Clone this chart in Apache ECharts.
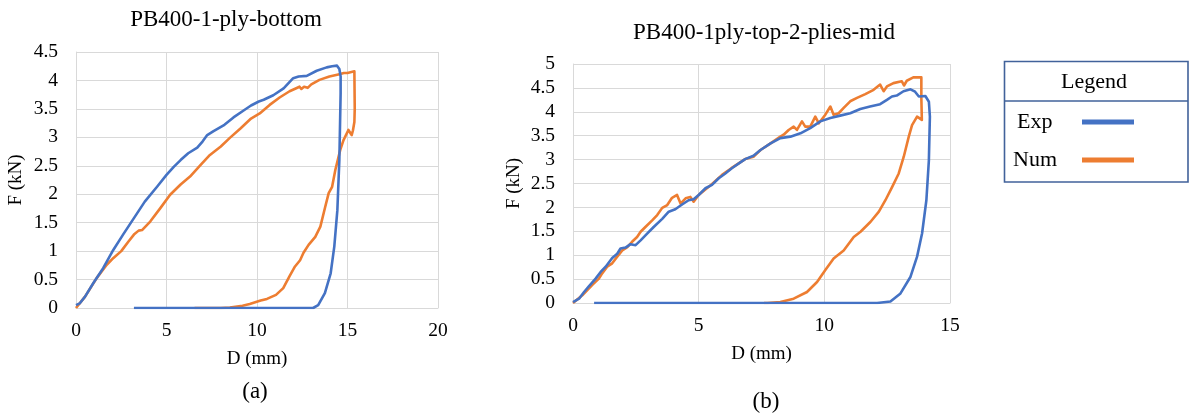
<!DOCTYPE html>
<html>
<head>
<meta charset="utf-8">
<script src="https://cdn.jsdelivr.net/npm/echarts@6/dist/echarts.min.js"></script>
<style>
html,body{margin:0;padding:0;background:#fff;}
#chart{width:1189px;height:419px;}
</style>
</head>
<body>
<div id="chart"></div>
<script>
// ---------- DATA ----------
const titleA = 'PB400-1-ply-bottom';
const titleB = 'PB400-1ply-top-2-plies-mid';
const seriesNames = ['Exp', 'Num'];
const xTicksA = [0, 5, 10, 15, 20];
const xTicksB = [0, 5, 10, 15];

// Chart (a): [D (mm), F (kN)]
const leftExp = [
  [0,0.05],[0.2,0.08],[0.5,0.2],[0.96,0.44],[1.5,0.7],[2.06,1.02],[2.6,1.29],[3.2,1.58],[3.8,1.87],
  [4.5,2.14],[5.0,2.34],[5.4,2.48],[5.78,2.6],[6.2,2.72],[6.7,2.82],[7.0,2.93],[7.25,3.04],[7.6,3.11],
  [8.2,3.22],[8.7,3.35],[9.3,3.48],[9.67,3.56],[10.1,3.63],[10.37,3.66],[10.9,3.74],[11.47,3.86],
  [12.0,4.04],[12.3,4.07],[12.75,4.08],[13.3,4.17],[13.85,4.23],[14.15,4.25],[14.42,4.26],[14.55,4.2],
  [14.62,4.07],[14.62,3.77],[14.55,2.6],[14.44,1.72],[14.27,1.08],[14.07,0.61],[13.75,0.26],
  [13.38,0.05],[13.1,0],[3.2,0]
];
const leftNum = [
  [0,0],[0.5,0.2],[1.15,0.53],[1.7,0.76],[2.07,0.88],[2.5,1.0],[2.9,1.17],[3.2,1.29],[3.46,1.36],
  [3.65,1.37],[4.1,1.52],[4.67,1.76],[5.2,1.99],[5.78,2.17],[6.3,2.31],[6.9,2.52],[7.4,2.69],[8.0,2.84],
  [8.5,2.99],[9.1,3.16],[9.67,3.33],[10.15,3.42],[10.7,3.57],[11.25,3.7],[11.8,3.81],[12.35,3.89],
  [12.45,3.85],[12.6,3.89],[12.8,3.87],[13.0,3.93],[13.45,4.01],[14.0,4.07],[14.55,4.11],[14.8,4.13],
  [14.9,4.11],[15.0,4.13],[15.1,4.12],[15.38,4.16],[15.4,3.5],[15.38,3.27],[15.3,3.12],[15.23,3.04],
  [15.05,3.13],[14.78,2.95],[14.6,2.78],[14.33,2.43],[14.15,2.13],[13.96,2.02],[13.77,1.78],[13.5,1.43],
  [13.22,1.25],[12.85,1.11],[12.57,0.97],[12.38,0.84],[12.1,0.73],[11.8,0.56],[11.45,0.35],[11.05,0.23],
  [10.55,0.16],[10.2,0.13],[9.6,0.07],[9.2,0.04],[8.5,0.01],[8.0,0],[6.55,0]
];

// Chart (b): [D (mm), F (kN)]
const rightExp = [
  [0,0.02],[0.24,0.09],[0.44,0.23],[0.63,0.35],[0.9,0.51],[1.1,0.65],[1.3,0.76],[1.56,0.94],[1.76,1.03],
  [1.89,1.14],[2.09,1.16],[2.29,1.23],[2.49,1.21],[2.69,1.31],[2.95,1.45],[3.21,1.59],[3.55,1.76],
  [3.81,1.91],[4.07,1.96],[4.34,2.06],[4.6,2.15],[4.8,2.17],[5.0,2.26],[5.27,2.4],[5.53,2.47],[5.8,2.61],
  [6.06,2.71],[6.32,2.82],[6.6,2.92],[6.85,3.01],[7.18,3.08],[7.46,3.2],[7.86,3.34],[8.25,3.45],
  [8.65,3.48],[9.05,3.55],[9.44,3.66],[9.84,3.8],[10.24,3.87],[10.63,3.92],[11.03,3.97],[11.43,4.06],
  [11.82,4.11],[12.22,4.16],[12.49,4.25],[12.69,4.32],[12.88,4.34],[13.15,4.43],[13.43,4.47],[13.61,4.42],
  [13.76,4.32],[14.02,4.33],[14.16,4.21],[14.2,3.9],[14.16,2.99],[14.06,2.15],[13.89,1.46],[13.69,0.97],
  [13.43,0.55],[13.03,0.2],[12.63,0.03],[12.1,0],[0.84,0]
];
const rightNum = [
  [0,0],[0.37,0.16],[0.77,0.38],[1.03,0.51],[1.16,0.62],[1.36,0.76],[1.56,0.83],[1.76,0.97],[1.96,1.1],
  [2.16,1.17],[2.35,1.28],[2.55,1.38],[2.69,1.49],[2.88,1.59],[3.15,1.73],[3.35,1.84],[3.55,1.99],
  [3.75,2.05],[3.94,2.2],[4.14,2.26],[4.28,2.08],[4.48,2.19],[4.67,2.22],[4.8,2.12],[5.0,2.26],[5.4,2.43],
  [5.93,2.68],[6.3,2.82],[6.85,3.01],[7.18,3.06],[7.46,3.2],[7.86,3.34],[8.25,3.48],[8.38,3.52],
  [8.58,3.62],[8.78,3.69],[8.91,3.62],[9.11,3.8],[9.24,3.69],[9.44,3.69],[9.64,3.9],[9.78,3.76],
  [10.04,3.94],[10.24,4.11],[10.37,3.94],[10.57,3.97],[10.77,4.08],[11.03,4.22],[11.3,4.29],[11.63,4.37],
  [11.96,4.46],[12.22,4.57],[12.36,4.43],[12.49,4.53],[12.75,4.6],[13.08,4.64],[13.17,4.55],[13.28,4.65],
  [13.54,4.72],[13.86,4.72],[13.86,4.29],[13.88,3.83],[13.69,3.9],[13.49,3.72],[13.36,3.48],[13.16,3.06],
  [12.96,2.71],[12.7,2.43],[12.43,2.15],[12.17,1.91],[11.84,1.7],[11.44,1.49],[11.17,1.38],
  [10.77,1.1],[10.37,0.93],[10.04,0.69],[9.71,0.44],[9.31,0.23],[8.78,0.09],[8.25,0.02],[7.73,0],[7.6,0]
];

// ---------- STYLE ----------
const FONT = '"Liberation Serif", "Times New Roman", serif';
const GRID = '#D9D9D9';
const BLUE = '#4472C4';
const ORANGE = '#ED7D31';
const TXT = '#000000';

function xAxis(gridIndex, max) {
  return {
    type: 'value', gridIndex: gridIndex, min: 0, max: max, interval: 5,
    name: 'D (mm)', nameLocation: 'middle', nameGap: 42,
    nameTextStyle: {fontFamily: FONT, fontSize: 19, color: TXT},
    axisLine: {show: true, lineStyle: {color: GRID, width: 1}},
    axisTick: {show: false},
    axisLabel: {fontFamily: FONT, fontSize: 19.5, color: TXT, margin: 13},
    splitLine: {show: true, lineStyle: {color: GRID, width: 1}}
  };
}
function yAxis(gridIndex, max, gap) {
  return {
    type: 'value', gridIndex: gridIndex, min: 0, max: max, interval: 0.5,
    name: 'F (kN)', nameLocation: 'middle', nameGap: gap, nameRotate: 90,
    nameTextStyle: {fontFamily: FONT, fontSize: 19, color: TXT},
    axisLine: {show: true, lineStyle: {color: GRID, width: 1}},
    axisTick: {show: false},
    axisLabel: {fontFamily: FONT, fontSize: 19.5, color: TXT, margin: 18},
    splitLine: {show: true, lineStyle: {color: GRID, width: 1}}
  };
}
function line(name, data, idx, color) {
  return {
    type: 'line', name: name, data: data, xAxisIndex: idx, yAxisIndex: idx,
    showSymbol: false, symbol: 'none', smooth: false,
    lineStyle: {width: 2.6, color: color, join: 'round'}, itemStyle: {color: color},
    z: name === 'Exp' ? 3 : 2
  };
}
function txt(text, x, y, size, align) {
  return {
    type: 'text', x: x, y: y, silent: true,
    style: {text: text, fill: TXT, fontFamily: FONT, fontSize: size,
            align: align || 'center', verticalAlign: 'middle'}
  };
}

const chart = echarts.init(document.getElementById('chart'), null, {renderer: 'canvas'});
chart.setOption({
  animation: false,
  backgroundColor: '#ffffff',
  grid: [
    {left: 76, top: 52, width: 362, height: 256},
    {left: 573, top: 64, width: 377, height: 239}
  ],
  xAxis: [xAxis(0, xTicksA[xTicksA.length - 1]), xAxis(1, xTicksB[xTicksB.length - 1])],
  yAxis: [yAxis(0, 4.5, 50), yAxis(1, 5, 49)],
  series: [
    line(seriesNames[1], leftNum, 0, ORANGE),
    line(seriesNames[0], leftExp, 0, BLUE),
    line(seriesNames[1], rightNum, 1, ORANGE),
    line(seriesNames[0], rightExp, 1, BLUE)
  ],
  graphic: [
    txt(titleA, 226, 20, 23),
    txt(titleB, 764, 33, 23),
    txt('(a)', 255, 392, 23),
    txt('(b)', 766, 402, 23),
    {type: 'rect', shape: {x: 1004.5, y: 61.5, width: 183.5, height: 120.5},
     style: {fill: '#ffffff', stroke: '#41629A', lineWidth: 1.6}, z: 10},
    {type: 'line', shape: {x1: 1004.5, y1: 101, x2: 1188, y2: 101},
     style: {stroke: '#41629A', lineWidth: 1.6}, z: 11},
    Object.assign(txt('Legend', 1094, 82, 22), {z: 11}),
    Object.assign(txt(seriesNames[0], 1017, 122, 22, 'left'), {z: 11}),
    Object.assign(txt(seriesNames[1], 1013, 160, 22, 'left'), {z: 11}),
    {type: 'line', shape: {x1: 1082, y1: 122, x2: 1134, y2: 122},
     style: {stroke: BLUE, lineWidth: 5}, z: 11},
    {type: 'line', shape: {x1: 1082, y1: 160, x2: 1134, y2: 160},
     style: {stroke: ORANGE, lineWidth: 5}, z: 11}
  ]
});
</script>
</body>
</html>
